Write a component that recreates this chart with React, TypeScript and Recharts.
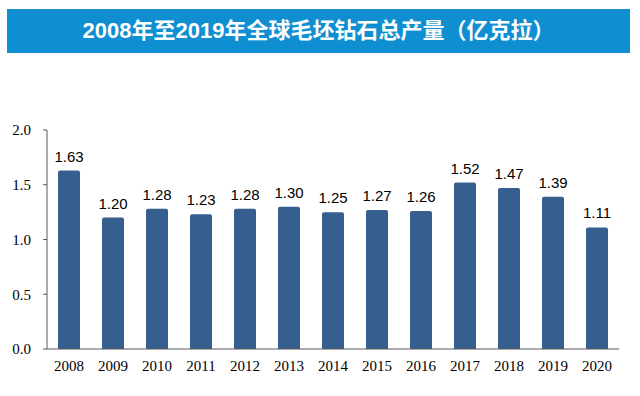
import React from "react";
import { BarChart, Bar, XAxis, YAxis, LabelList } from "recharts";

const years = ["2008", "2009", "2010", "2011", "2012", "2013", "2014", "2015", "2016", "2017", "2018", "2019", "2020"];
const output = [1.63, 1.2, 1.28, 1.23, 1.28, 1.3, 1.25, 1.27, 1.26, 1.52, 1.47, 1.39, 1.11];
const yTicks = [0, 0.5, 1.0, 1.5, 2.0];
const title = "2008年至2019年全球毛坯钻石总产量（亿克拉）";

const data = years.map((y, i) => ({ year: y, value: output[i] }));

export default function App() {
  return (
    <div style={{ position: "absolute", left: 0, top: 0, width: 640, height: 396, background: "#fff" }}>
      <div
        style={{
          position: "absolute",
          left: 7,
          top: 9,
          width: 623,
          height: 44,
          background: "#0F8FD1",
          color: "#fff",
          fontFamily: "'Liberation Sans', 'Noto Sans CJK SC', sans-serif",
          fontWeight: 700,
          fontSize: 22,
          lineHeight: "44px",
          textAlign: "center",
        }}
      >
        {title}
      </div>
      <div style={{ position: "absolute", left: 0, top: 0 }}>
        <BarChart
          width={640}
          height={396}
          data={data}
          margin={{ top: 130, right: 21, bottom: 17, left: 7 }}
          barCategoryGap={11}
        >
          <XAxis
            dataKey="year"
            height={30}
            tickLine={false}
            axisLine={{ stroke: "#595959" }}
            tick={{ fill: "#000", fontSize: 15, fontFamily: "'Liberation Serif', serif" }}
            tickMargin={5}
          />
          <YAxis
            width={40}
            domain={[0, 2]}
            ticks={yTicks}
            tickFormatter={(v: number) => v.toFixed(1)}
            tickSize={4}
            tickLine={{ stroke: "#595959" }}
            axisLine={{ stroke: "#595959" }}
            tick={{ fill: "#000", fontSize: 15, fontFamily: "'Liberation Serif', serif" }}
            tickMargin={12}
          />
          <Bar dataKey="value" fill="#365E8E" radius={[2, 2, 0, 0]} isAnimationActive={false}>
            <LabelList
              dataKey="value"
              position="top"
              offset={9}
              formatter={(v: any) => Number(v).toFixed(2)}
              style={{ fill: "#000", fontSize: 15, fontFamily: "'Liberation Sans', Arial, sans-serif" }}
            />
          </Bar>
        </BarChart>
      </div>
    </div>
  );
}
